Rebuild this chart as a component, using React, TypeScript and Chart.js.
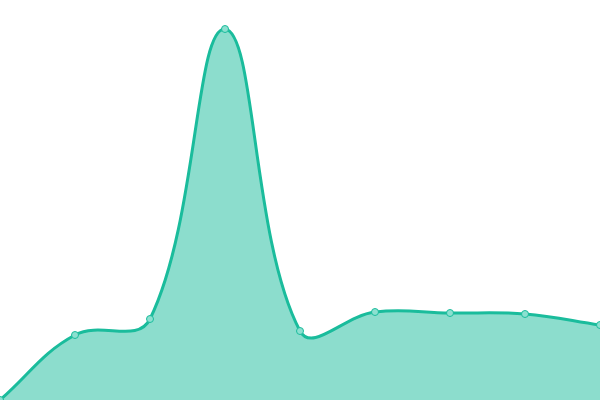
import React, { useEffect, useRef } from 'react';
import Chart from 'chart.js/auto';

const labels = ['1', '2', '3', '4', '5', '6', '7', '8', '9'];
const values = [0, 16.25, 20.25, 92.75, 17.25, 22, 21.75, 21.5, 18.75];

const LINE_COLOR = '#1abc9c';
const FILL_COLOR = 'rgba(26, 188, 156, 0.5)';
const POINT_FILL = '#8ce0d0';

const App: React.FC = () => {
  const chartRef = useRef<HTMLCanvasElement | null>(null);
  const chartInstanceRef = useRef<any>(null);

  useEffect(() => {
    document.body.style.margin = '0';
    if (!chartRef.current) return;
    const ctx = chartRef.current.getContext('2d');
    if (!ctx) return;

    chartInstanceRef.current = new Chart(ctx, {
      type: 'line',
      data: {
        labels,
        datasets: [{
          data: values,
          borderColor: LINE_COLOR,
          backgroundColor: FILL_COLOR,
          borderWidth: 3,
          fill: true,
          tension: 0.4,
          pointRadius: 3.5,
          pointBackgroundColor: POINT_FILL,
          pointBorderColor: LINE_COLOR,
          pointBorderWidth: 1,
        }]
      },
      options: {
        animation: false,
        responsive: true,
        maintainAspectRatio: false,
        layout: { padding: 0, autoPadding: false },
        plugins: {
          legend: { display: false },
          tooltip: { enabled: false },
        },
        scales: {
          x: { display: false },
          y: { display: false, min: 0, max: 100 },
        },
      },
    });

    return () => {
      if (chartInstanceRef.current) {
        chartInstanceRef.current.destroy();
      }
    };
  }, []);

  return (
    <div style={{ position: 'relative', width: 600, height: 400 }}>
      <canvas ref={chartRef}></canvas>
    </div>
  );
};

export default App;
